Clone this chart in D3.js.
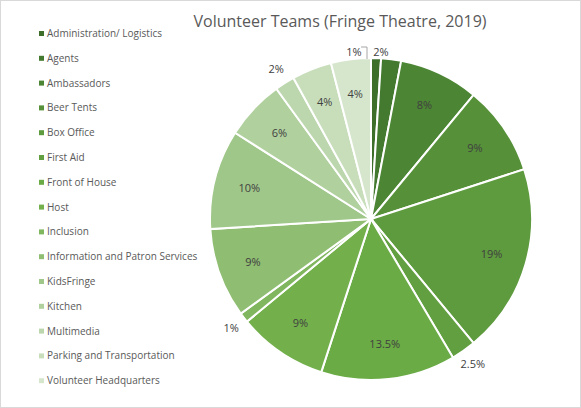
<!DOCTYPE html>
<html><head><meta charset="utf-8">
<script src="https://cdn.jsdelivr.net/npm/d3@7"></script>
<style>body{margin:0;background:#fff}text{font-family:"Open Sans",Calibri,sans-serif}</style>
</head><body>
<svg id="c" width="581" height="408"></svg>
<script>
var categories = ["Administration/ Logistics","Agents","Ambassadors","Beer Tents","Box Office","First Aid","Front of House","Host","Inclusion","Information and Patron Services","KidsFringe","Kitchen","Multimedia","Parking and Transportation","Volunteer Headquarters"]
var values = [1,2,8,9,19,2.5,13.5,9,1,9,10,6,2,4,4]
var labels = ["1%","2%","8%","9%","19%","2.5%","13.5%","9%","1%","9%","10%","6%","2%","4%","4%"]
var colors = ["#3d6f2b","#447a2f","#4c8634","#569139","#5e9a3e","#629f40","#6aab45","#73b04c","#80b65d","#8fbd72","#a0c78a","#b0d09e","#bcd7ad","#c8debb","#d6e6cd"]

var svg = d3.select("#c")
svg.append("rect").attr("x",0.5).attr("y",0.5).attr("width",580).attr("height",407).attr("fill","#fff").attr("stroke","#d9d9d9")
svg.append("text").attr("x",340).attr("y",27).attr("text-anchor","middle").attr("font-size",16).attr("fill","#595959").text("Volunteer Teams (Fringe Theatre, 2019)")

var leg = svg.append("g")
categories.forEach(function(c,i){
  var y = 34 + i*24.8
  leg.append("rect").attr("x",39).attr("y",y-3).attr("width",5).attr("height",5).attr("fill",colors[i])
  leg.append("text").attr("x",47).attr("y",y+3).attr("font-size",10).attr("fill","#595959").text(c)
})

var cx = 371, cy = 219, r = 161
var pie = d3.pie().sort(null).value(function(d){return d})
var arcs = pie(values)
var arc = d3.arc().innerRadius(0).outerRadius(r)
var g = svg.append("g").attr("transform","translate("+cx+","+cy+")")
g.selectAll("path").data(arcs).enter().append("path").attr("d",arc)
  .attr("fill",function(d,i){return colors[i]}).attr("stroke","#fff").attr("stroke-width",2)

var inner = d3.arc().innerRadius(r*0.78).outerRadius(r*0.78)
var outer = d3.arc().innerRadius(r*1.1).outerRadius(r*1.1)
arcs.forEach(function(d,i){
  var out = values[i] <= 2.5
  var p = (out ? outer : inner).centroid(d)
  if (i==0) p = [-17, -r-6]
  if (i==1) p = [10, -r-6]
  g.append("text").attr("x",p[0]).attr("y",p[1]+4).attr("text-anchor","middle")
    .attr("font-size",11).attr("fill","#404040").text(labels[i])
})
g.append("path").attr("d","M-10,-"+(r+11)+"H-4V-"+(r-1)).attr("fill","none").attr("stroke","#a6a6a6")
</script>
</body></html>
